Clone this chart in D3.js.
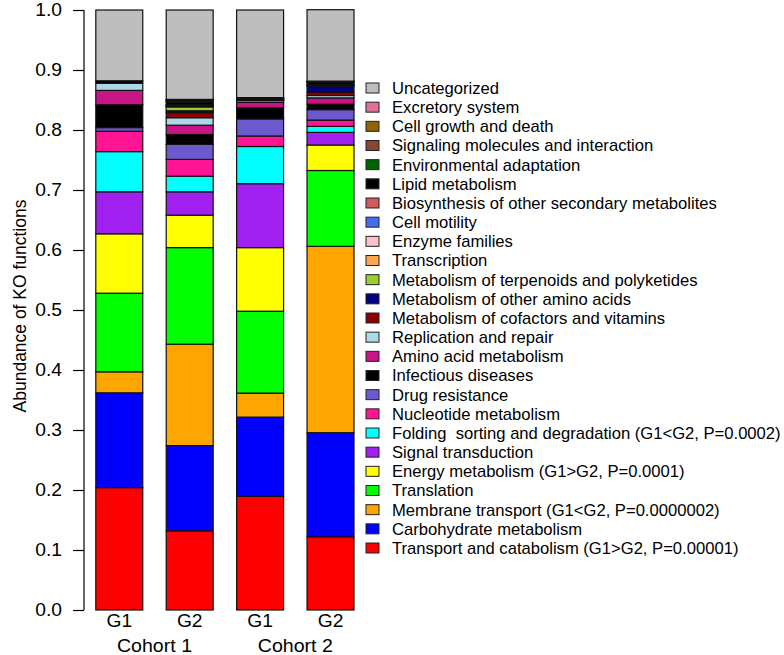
<!DOCTYPE html>
<html>
<head>
<meta charset="utf-8">
<script src="https://cdn.jsdelivr.net/npm/d3@7"></script>
<style>
  html, body { margin: 0; padding: 0; background: #fff; }
  svg { display: block; }
  text { font-family: "Liberation Sans", Arial, sans-serif; fill: #000; }
</style>
</head>
<body>
<svg id="chart" width="784" height="655"></svg>
<script>
// Categories in stacking order (bottom -> top)
const categories = [
  "Transport and catabolism (G1>G2, P=0.00001)",
  "Carbohydrate metabolism",
  "Membrane transport (G1<G2, P=0.0000002)",
  "Translation",
  "Energy metabolism (G1>G2, P=0.0001)",
  "Signal transduction",
  "Folding  sorting and degradation (G1<G2, P=0.0002)",
  "Nucleotide metabolism",
  "Drug resistance",
  "Infectious diseases",
  "Amino acid metabolism",
  "Replication and repair",
  "Metabolism of cofactors and vitamins",
  "Metabolism of other amino acids",
  "Metabolism of terpenoids and polyketides",
  "Transcription",
  "Enzyme families",
  "Cell motility",
  "Biosynthesis of other secondary metabolites",
  "Lipid metabolism",
  "Environmental adaptation",
  "Signaling molecules and interaction",
  "Cell growth and death",
  "Excretory system",
  "Uncategorized"
];
const colors = [
  "#FF0000", "#0000FF", "#FFA500", "#00FF00", "#FFFF00", "#A020F0", "#00FFFF",
  "#FF1493", "#6A5ACD", "#000000", "#C71585", "#ADD8E6", "#8B0000", "#000080",
  "#9ACD32", "#FFA54F", "#FFC0CB", "#436EEE", "#CD5C5C", "#000000", "#006400",
  "#8B4533", "#8B6508", "#E0709A", "#BEBEBE"
];
const groups = ["G1", "G2", "G1", "G2"];
const cohorts = ["Cohort 1", "Cohort 2"];
// Values per bar, same order as categories
const cohort1G1 = [0.204, 0.158, 0.035, 0.131, 0.099, 0.070, 0.067, 0.034, 0.006, 0.038, 0.024, 0.012,
  0, 0, 0, 0, 0, 0, 0, 0.004, 0, 0, 0, 0, 0.118];
const cohort1G2 = [0.132, 0.142, 0.169, 0.161, 0.054, 0.039, 0.026, 0.028, 0.025, 0.0165, 0.0155, 0.0125,
  0.0085, 0.003, 0.0065, 0.0015, 0.0005, 0.0005, 0.001, 0.004, 0.001, 0.002, 0.001, 0.001, 0.149];
const cohort2G1 = [0.1895, 0.132, 0.040, 0.1365, 0.106, 0.1065, 0.062, 0.0175, 0.0285, 0.0185, 0.009, 0.003,
  0.0005, 0.0005, 0, 0.0005, 0, 0, 0, 0.002, 0.0005, 0.0005, 0, 0.0005, 0.146];
const cohort2G2 = [0.122, 0.1735, 0.3105, 0.1265, 0.0425, 0.021, 0.010, 0.0105, 0.0175, 0.009, 0.0105, 0.004,
  0.0055, 0.0105, 0.0005, 0.0005, 0, 0.0005, 0.0005, 0.004, 0.0005, 0.0005, 0.0005, 0.0005, 0.119];
const yTicks = [0.0, 0.1, 0.2, 0.3, 0.4, 0.5, 0.6, 0.7, 0.8, 0.9, 1.0];

const bars = [cohort1G1, cohort1G2, cohort2G1, cohort2G2];
const SX = 1.1;   // horizontal text stretch seen in the reference
const SXL = 1.045; // legend stretch

const svg = d3.select("#chart");
const y = d3.scaleLinear().domain([0, 1]).range([610, 10]);
const x = d3.scaleBand().domain(d3.range(bars.length)).range([95.8, 354])
  .paddingInner(0.333).paddingOuter(0);

// Build stacked data
const table = bars.map((vals, i) => {
  const row = { idx: i };
  categories.forEach((c, j) => row[c] = vals[j]);
  return row;
});
const stack = d3.stack().keys(categories)(table);

const layers = svg.append("g").selectAll("g").data(stack).join("g")
  .attr("fill", (d, i) => colors[i]);
layers.selectAll("rect").data(d => d).join("rect")
  .attr("x", d => x(d.data.idx))
  .attr("width", x.bandwidth())
  .attr("y", d => y(d[1]))
  .attr("height", d => Math.max(0, y(d[0]) - y(d[1])))
  .attr("stroke", "#111")
  .attr("stroke-width", 1.2);

// Y axis
const yAxis = d3.axisLeft(y).tickValues(yTicks).tickFormat(d3.format(".1f")).tickSize(11).tickPadding(10);
const ga = svg.append("g").attr("transform", "translate(84,0)").call(yAxis);
ga.select(".domain").attr("d", `M0,${y(0)}V${y(1)}`).attr("stroke", "#000").attr("stroke-width", 1.2).attr("fill", "none");
ga.selectAll(".tick line").attr("stroke", "#000").attr("stroke-width", 1.2);
ga.selectAll(".tick text")
  .attr("x", -22 / SX)
  .attr("transform", `scale(${SX},1)`)
  .style("font-size", "17.5px").attr("fill", "#000");

// Y label
svg.append("text")
  .attr("transform", `translate(19,${(y(0) + y(1)) / 2 - 4}) rotate(-90) scale(1,${SX})`)
  .attr("text-anchor", "middle").attr("dominant-baseline", "central")
  .style("font-size", "17.5px")
  .text("Abundance of KO functions");

// X labels
svg.append("g").selectAll("text").data(groups).join("text")
  .attr("transform", (d, i) => `translate(${x(i) + x.bandwidth() / 2},627) scale(${SX},1)`)
  .attr("text-anchor", "middle")
  .style("font-size", "17.5px")
  .text(d => d);
svg.append("g").selectAll("text").data(cohorts).join("text")
  .attr("transform", (d, i) => `translate(${(x(2 * i) + x(2 * i + 1) + x.bandwidth()) / 2},652) scale(${SX},1)`)
  .attr("text-anchor", "middle")
  .style("font-size", "17.8px")
  .text(d => d);

// Legend (top -> bottom = reverse of stacking order)
const legendOrder = d3.range(categories.length).reverse();
const ly = d3.scalePoint().domain(legendOrder).range([88, 548]);
const lg = svg.append("g").selectAll("g").data(legendOrder).join("g")
  .attr("transform", d => `translate(0,${ly(d)})`);
lg.append("rect")
  .attr("x", 366).attr("y", -5).attr("width", 13).attr("height", 10)
  .attr("fill", d => colors[d]).attr("stroke", "#222").attr("stroke-width", 1);
lg.append("text")
  .attr("transform", `translate(392,0) scale(${SXL},1)`)
  .attr("dominant-baseline", "central")
  .style("font-size", "15.9px")
  .attr("xml:space", "preserve")
  .text(d => categories[d]);
</script>
</body>
</html>
